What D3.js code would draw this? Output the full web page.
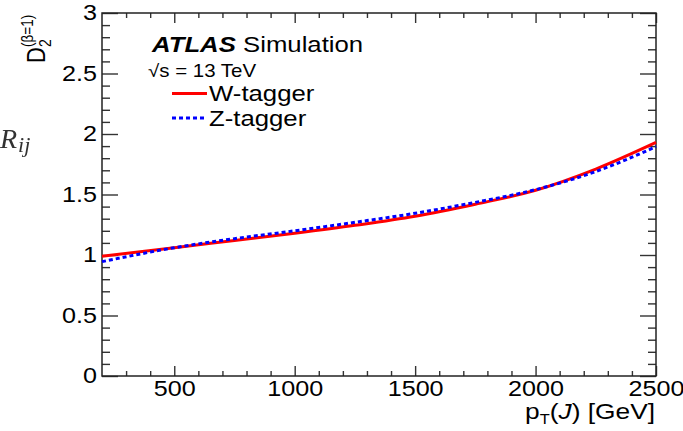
<!DOCTYPE html>
<html>
<head>
<meta charset="utf-8">
<script src="https://cdn.jsdelivr.net/npm/d3@7"></script>
<style>
  body { margin: 0; background: #fff; }
  svg { font-family: 'Liberation Sans', Arial, sans-serif; }
</style>
</head>
<body>
<div id="chart"></div>
<script>
// values
const ptValues = [200, 500, 750, 1000, 1250, 1500, 1750, 2000, 2250, 2500];
const wTagger = [0.99, 1.06, 1.12, 1.18, 1.245, 1.32, 1.42, 1.535, 1.71, 1.93];
const zTagger = [0.945, 1.06, 1.135, 1.2, 1.27, 1.345, 1.435, 1.54, 1.69, 1.895];
const xTicks = [500, 1000, 1500, 2000, 2500];
const yTicks = [0, 0.5, 1, 1.5, 2, 2.5, 3];
const seriesNames = ['W-tagger', 'Z-tagger'];

const W = 683;
const H = 431;
const margin = {
  top: 13, right: 27, bottom: 55, left: 102,
};
const width = W - margin.left - margin.right;
const height = H - margin.top - margin.bottom;
const sx = 1.17; // glyphs in the reference are a bit wide

const xScale = d3.scaleLinear().domain([200, 2500]).range([0, width]);
const yScale = d3.scaleLinear().domain([0, 3]).range([height, 0]);

const svg = d3.select('#chart').append('svg')
  .attr('width', W)
  .attr('height', H);

const g = svg.append('g')
  .attr('transform', `translate(${margin.left},${margin.top})`);

const xMinor = d3.range(300, 2500, 100).filter(v => v % 500 !== 0);
const yMinor = d3.range(1, 30).filter(v => v % 5 !== 0).map(v => v / 10);

// ticks, drawn inside the frame on all four sides
function tickAxis(axis, transform) {
  const a = g.append('g').attr('transform', transform).call(axis);
  a.select('.domain').remove();
  a.selectAll('text').remove();
  a.selectAll('line').attr('stroke', '#333').attr('stroke-width', 1.4);
}
tickAxis(d3.axisBottom(xScale).tickValues(xTicks).tickSize(-10), `translate(0,${height})`);
tickAxis(d3.axisBottom(xScale).tickValues(xMinor).tickSize(-5), `translate(0,${height})`);
tickAxis(d3.axisTop(xScale).tickValues(xTicks).tickSize(-10), 'translate(0,0)');
tickAxis(d3.axisTop(xScale).tickValues(xMinor).tickSize(-5), 'translate(0,0)');
tickAxis(d3.axisLeft(yScale).tickValues(yTicks).tickSize(-16), 'translate(0,0)');
tickAxis(d3.axisLeft(yScale).tickValues(yMinor).tickSize(-8), 'translate(0,0)');
tickAxis(d3.axisRight(yScale).tickValues(yTicks).tickSize(-16), `translate(${width},0)`);
tickAxis(d3.axisRight(yScale).tickValues(yMinor).tickSize(-8), `translate(${width},0)`);

// tick labels
const xLab = g.append('g')
  .attr('transform', `translate(0,${height})`)
  .call(d3.axisBottom(xScale).tickValues(xTicks).tickSize(0).tickPadding(5)
    .tickFormat(d => d));
xLab.select('.domain').remove();
xLab.selectAll('text')
  .attr('font-size', 21.5)
  .attr('fill', '#000')
  .attr('transform', `scale(${sx},1)`);

const yLab = g.append('g')
  .call(d3.axisLeft(yScale).tickValues(yTicks).tickSize(0).tickPadding(5)
    .tickFormat(d => String(d)));
yLab.select('.domain').remove();
yLab.selectAll('text')
  .attr('font-size', 21.5)
  .attr('fill', '#000')
  .attr('x', -5 / sx)
  .attr('transform', `scale(${sx},1)`);
yLab.attr('font-family', null);
xLab.attr('font-family', null);

// frame
g.append('rect')
  .attr('width', width)
  .attr('height', height)
  .attr('fill', 'none')
  .attr('stroke', '#222')
  .attr('stroke-width', 1.5);

// curves
const line = d3.line()
  .curve(d3.curveMonotoneX)
  .x(d => xScale(d.pt))
  .y(d => yScale(d.v));

const series = [
  { name: seriesNames[0], values: ptValues.map((pt, i) => ({ pt, v: wTagger[i] })), color: '#ff0000', dash: null },
  { name: seriesNames[1], values: ptValues.map((pt, i) => ({ pt, v: zTagger[i] })), color: '#0000ff', dash: '4,3' },
];

g.selectAll('.curve')
  .data(series)
  .enter().append('path')
  .attr('class', 'curve')
  .attr('d', d => line(d.values))
  .attr('fill', 'none')
  .attr('stroke', d => d.color)
  .attr('stroke-width', 3)
  .attr('stroke-dasharray', d => d.dash);

// ATLAS label
const atlas = svg.append('g')
  .attr('transform', `translate(152,52) scale(${sx},1)`)
  .append('text')
  .attr('font-size', 22);
atlas.append('tspan').attr('font-weight', 'bold').attr('font-style', 'italic').text('ATLAS');
atlas.append('tspan').text(' Simulation');

svg.append('g')
  .attr('transform', `translate(148,77) scale(${sx},1)`)
  .append('text')
  .attr('font-size', 17.5)
  .text('\u221As = 13 TeV');

// legend
const legend = svg.selectAll('.legend')
  .data(series)
  .enter().append('g')
  .attr('class', 'legend')
  .attr('transform', (d, i) => `translate(172,${93.5 + i * 24.5})`);

legend.append('line')
  .attr('x1', 0).attr('x2', 35)
  .attr('stroke', d => d.color)
  .attr('stroke-width', 3)
  .attr('stroke-dasharray', d => d.dash);

legend.append('g')
  .attr('transform', `translate(37,7.5) scale(${sx},1)`)
  .append('text')
  .attr('font-size', 22)
  .text(d => d.name);

// x axis title
const xt = svg.append('g')
  .attr('transform', `translate(655,419) scale(${sx},1)`)
  .append('text')
  .attr('font-size', 22.5)
  .attr('text-anchor', 'end');
xt.append('tspan').text('p');
xt.append('tspan').attr('font-size', 14).attr('dy', 5).text('T');
xt.append('tspan').attr('dy', -5).text('(');
xt.append('tspan').attr('font-style', 'italic').text('J');
xt.append('tspan').text(') [GeV]');

// y axis title
const yt = svg.append('g')
  .attr('transform', `translate(45,63) scale(${sx},1) rotate(-90)`);
yt.append('text').attr('font-size', 22).text('D');
yt.append('text').attr('font-size', 14).attr('x', 16).attr('y', 5).text('2');
yt.append('text').attr('font-size', 13.5).attr('x', 16).attr('y', -10).text('(\u03B2=1)');

// leftover glyphs from the source page
svg.append('defs').append('filter')
  .attr('id', 'soft')
  .append('feGaussianBlur')
  .attr('stdDeviation', 0.5);
const rij = svg.append('text')
  .attr('x', 0)
  .attr('y', 148)
  .attr('fill', '#333')
  .attr('filter', 'url(#soft)')
  .style('font-family', "'Liberation Serif', serif")
  .attr('font-style', 'italic')
  .attr('font-size', 28);
rij.append('tspan').text('R');
rij.append('tspan').attr('font-size', 22).attr('dy', 4).attr('dx', 1).text('ij');
</script>
</body>
</html>
